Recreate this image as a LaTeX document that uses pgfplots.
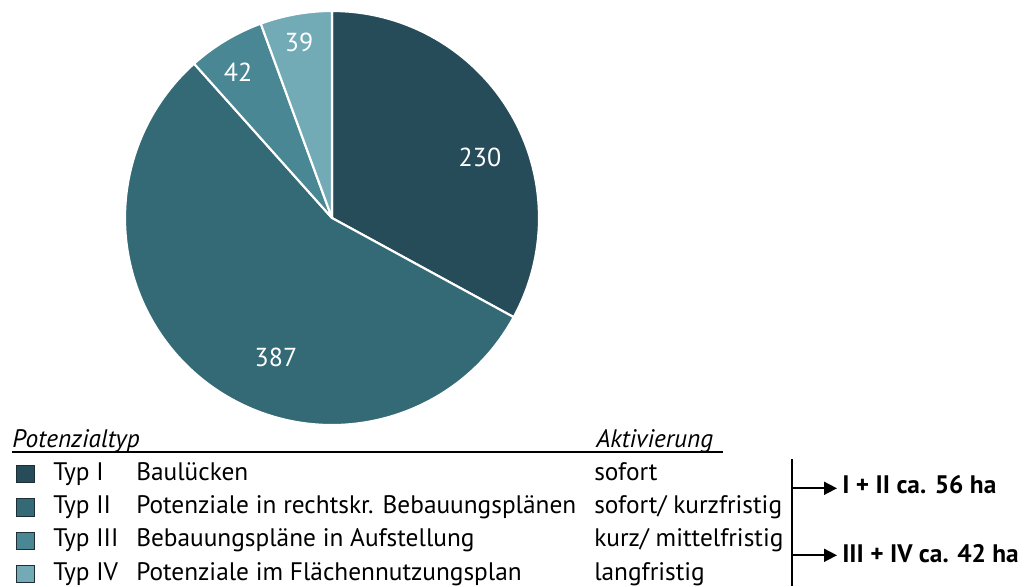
\documentclass[border=0pt]{standalone}
\usepackage{fontspec}
\setmainfont{PT Sans}
\usepackage{pgfplots}
\pgfplotsset{compat=1.18}
\usepackage{pgfplotstable}
\usetikzlibrary{arrows.meta}
\definecolor{cI}{HTML}{264C5A}
\definecolor{cII}{HTML}{336A76}
\definecolor{cIII}{HTML}{4A8794}
\definecolor{cIV}{HTML}{72AAB6}
\definecolor{bord}{HTML}{1E2E34}

\pgfplotstableread{
typ value
I 230
II 387
III 42
IV 39
}\piedata

\begin{document}
\begin{tikzpicture}
\pgfplotstablegetelem{0}{value}\of\piedata \let\vA\pgfplotsretval
\pgfplotstablegetelem{1}{value}\of\piedata \let\vB\pgfplotsretval
\pgfplotstablegetelem{2}{value}\of\piedata \let\vC\pgfplotsretval
\pgfplotstablegetelem{3}{value}\of\piedata \let\vD\pgfplotsretval
\pgfmathsetmacro\tot{\vA+\vB+\vC+\vD}
\pgfmathsetmacro\aA{90}
\pgfmathsetmacro\aB{\aA-360*(\vA/\tot)}
\pgfmathsetmacro\aC{\aB-360*(\vB/\tot)}
\pgfmathsetmacro\aD{\aC-360*(\vC/\tot)}
\pgfmathsetmacro\aE{\aD-360*(\vD/\tot)}
\def\R{155.25pt}
\def\legfont{\fontsize{19}{23}\selectfont}
\begin{axis}[hide axis, x=0.75pt, y=0.75pt, xmin=0, xmax=1033, ymin=0, ymax=586, clip=false]
\path (axis cs:0,0) rectangle (axis cs:1033,586);
% pie slices
\fill[cI, draw=white, line width=1.6pt, line join=round] (axis cs:332,368) -- ++(\aA:\R) arc[start angle=\aA, end angle=\aB, radius=\R] -- cycle;
\fill[cII, draw=white, line width=1.6pt, line join=round] (axis cs:332,368) -- ++(\aB:\R) arc[start angle=\aB, end angle=\aC, radius=\R] -- cycle;
\fill[cIII, draw=white, line width=1.6pt, line join=round] (axis cs:332,368) -- ++(\aC:\R) arc[start angle=\aC, end angle=\aD, radius=\R] -- cycle;
\fill[cIV, draw=white, line width=1.6pt, line join=round] (axis cs:332,368) -- ++(\aD:\R) arc[start angle=\aD, end angle=\aE, radius=\R] -- cycle;
% pie labels
\node[white, font=\fontsize{19.5}{24}\selectfont] at (axis cs:480,429) {\vA};
\node[white, font=\fontsize{19.5}{24}\selectfont] at (axis cs:276,229) {\vB};
\node[white, font=\fontsize{19.5}{24}\selectfont] at (axis cs:238,514) {\vC};
\node[white, font=\fontsize{19.5}{24}\selectfont] at (axis cs:299,544) {\vD};
% legend header
\node[anchor=base west, inner sep=0pt, font=\legfont\itshape] at (axis cs:12,138.5) {Potenzialtyp};
\node[anchor=base west, inner sep=0pt, font=\legfont\itshape] at (axis cs:596,138.5) {Aktivierung};
\draw[line width=0.9pt] (axis cs:12,134) -- (axis cs:723,134);
% legend rows
\fill[cI, draw=bord, line width=0.6pt] (axis cs:16,103.3) rectangle (axis cs:34,120.7);
\fill[cII, draw=bord, line width=0.6pt] (axis cs:16,70) rectangle (axis cs:34,87.4);
\fill[cIII, draw=bord, line width=0.6pt] (axis cs:16,36.7) rectangle (axis cs:34,54);
\fill[cIV, draw=bord, line width=0.6pt] (axis cs:16,3.3) rectangle (axis cs:34,20.7);
\begin{scope}[every node/.style={anchor=base west, inner sep=0pt, font=\legfont}]
\node at (axis cs:53,106) {Typ I};
\node at (axis cs:53,72.7) {Typ II};
\node at (axis cs:53,39.3) {Typ III};
\node at (axis cs:53,6) {Typ IV};
\node at (axis cs:136,106) {Baulücken};
\node at (axis cs:136,72.7) {Potenziale in rechtskr. Bebauungsplänen};
\node at (axis cs:136,39.3) {Bebauungspläne in Aufstellung};
\node at (axis cs:136,6) {Potenziale im Flächennutzungsplan};
\node at (axis cs:594,106) {sofort};
\node at (axis cs:594,72.7) {sofort/ kurzfristig};
\node at (axis cs:594,39.3) {kurz/ mittelfristig};
\node at (axis cs:594,6) {langfristig};
\end{scope}
% brackets and arrows
\draw[line width=1.3pt] (axis cs:792.3,126.7) -- (axis cs:792.3,0);
\draw[line width=1.3pt, -{Triangle[length=9.75pt, width=9.75pt]}] (axis cs:792.3,97.7) -- (axis cs:837,97.7);
\draw[line width=1.3pt, -{Triangle[length=9.75pt, width=9.75pt]}] (axis cs:792.3,30.7) -- (axis cs:837,30.7);
\node[anchor=base west, inner sep=0pt, font=\legfont\bfseries] at (axis cs:842,92.7) {I + II ca. 56 ha};
\node[anchor=base west, inner sep=0pt, font=\legfont\bfseries] at (axis cs:842,23.7) {III + IV ca. 42 ha};
\end{axis}
\end{tikzpicture}
\end{document}
